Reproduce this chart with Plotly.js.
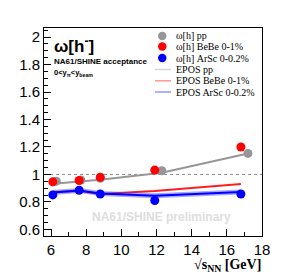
<!DOCTYPE html>
<html><head><meta charset="utf-8">
<script src="https://cdn.plot.ly/plotly-3.0.1.min.js"></script>
<style>html,body{margin:0;padding:0;background:#fff;}#chart{width:291px;height:278px;}</style>
</head><body><div id="chart"></div>
<script>
// Data
const ppX = [6.3, 7.7, 8.8, 12.3, 17.2];
const ppY = [0.951, 0.960, 0.972, 1.027, 1.153];
const beX = [6.1, 7.6, 8.8, 11.9, 16.8];
const beY = [0.946, 0.956, 0.980, 1.032, 1.200];
const arX = [6.1, 7.6, 8.8, 11.9, 16.8];
const arY = [0.851, 0.885, 0.858, 0.810, 0.858];
const eposPPX = [6.3, 7.7, 8.8, 12.3, 17.2];
const eposPPY = [0.935, 0.948, 0.962, 1.012, 1.153];
const eposBeX = [6.1, 7.6, 8.8, 11.9, 16.8];
const eposBeY = [0.873, 0.880, 0.858, 0.880, 0.930];
const eposArX = [6.1, 7.6, 8.8, 11.9, 16.8];
const eposArY = [0.868, 0.884, 0.862, 0.845, 0.872];
const legendLabels = ["ω[h] pp", "ω[h] BeBe 0-1%", "ω[h] ArSc 0-0.2%", "EPOS pp", "EPOS BeBe 0-1%", "EPOS ArSc 0-0.2%"];

const W = 291, H = 278, L = 44, R = 29, T = 28, B = 42;
const pw = W - L - R, ph = H - T - B;
const px = x => (x - L) / pw;
const py = y => (H - B - y) / ph;

const gray = 'rgb(150,150,150)';
const traces = [
  {x: eposPPX, y: eposPPY, mode: 'lines', line: {color: gray, width: 2}, showlegend: false},
  {x: eposBeX, y: eposBeY, mode: 'lines', line: {color: 'rgb(255,30,30)', width: 2}, showlegend: false},
  {x: eposArX, y: eposArY, mode: 'lines', line: {color: 'rgba(60,60,255,0.45)', width: 5}, showlegend: false},
  {x: eposArX, y: eposArY, mode: 'lines', line: {color: 'rgb(0,0,255)', width: 2}, showlegend: false},
  {x: ppX, y: ppY, mode: 'markers', marker: {color: gray, size: 9}, showlegend: false},
  {x: beX, y: beY, mode: 'markers', marker: {color: 'rgb(255,0,0)', size: 9}, showlegend: false},
  {x: arX, y: arY, mode: 'markers', marker: {color: 'rgb(0,0,255)', size: 9}, showlegend: false}
];

const shapes = [
  {type: 'line', xref: 'paper', yref: 'y', x0: 0, x1: 1, y0: 1, y1: 1,
   line: {color: 'rgb(140,140,140)', width: 1, dash: 'dot'}, layer: 'below'}
];
const annotations = [];
const rowY = [36, 46.5, 58, 69.5, 80.8, 92];
const symCols = [gray, 'rgb(255,0,0)', 'rgb(0,0,255)', 'rgb(215,215,215)', 'rgb(255,150,150)', 'rgb(150,150,255)'];
for (let i = 0; i < 6; i++) {
  if (i < 3) {
    shapes.push({type: 'circle', xref: 'paper', yref: 'paper',
      x0: px(158), x1: px(166.5), y0: py(rowY[i] + 4.2), y1: py(rowY[i] - 4.2),
      fillcolor: symCols[i], line: {width: 0}});
  } else {
    shapes.push({type: 'line', xref: 'paper', yref: 'paper',
      x0: px(155), x1: px(171), y0: py(rowY[i]), y1: py(rowY[i]),
      line: {color: symCols[i], width: 1.5}});
  }
  annotations.push({xref: 'paper', yref: 'paper', x: px(174), y: py(rowY[i]),
    xanchor: 'left', yanchor: 'middle', showarrow: false, text: legendLabels[i],
    font: {family: 'Liberation Serif, Times New Roman, serif', size: 10, color: '#000'}});
}
annotations.push(
  {xref: 'paper', yref: 'paper', x: px(52), y: py(45), xanchor: 'left', yanchor: 'middle', showarrow: false,
   text: '<b>ω[h<sup>-</sup>]</b>', font: {family: 'Liberation Sans, Arial, sans-serif', size: 17, color: '#000'}},
  {xref: 'paper', yref: 'paper', x: px(52), y: py(62), xanchor: 'left', yanchor: 'middle', showarrow: false,
   text: '<b>NA61/SHINE acceptance</b>', font: {family: 'Liberation Sans, Arial, sans-serif', size: 8, color: '#000'}},
  {xref: 'paper', yref: 'paper', x: px(52), y: py(73), xanchor: 'left', yanchor: 'middle', showarrow: false,
   text: '<b>0<y<sub>π</sub><y<sub>beam</sub></b>', font: {family: 'Liberation Sans, Arial, sans-serif', size: 7.5, color: '#000'}},
  {xref: 'paper', yref: 'paper', x: px(161), y: py(217), xanchor: 'center', yanchor: 'middle', showarrow: false,
   text: '<b>NA61/SHINE preliminary</b>', font: {family: 'Liberation Sans, Arial, sans-serif', size: 12, color: 'rgb(222,222,222)'}},
  {xref: 'paper', yref: 'paper', x: px(263), y: py(265), xanchor: 'right', yanchor: 'middle', showarrow: false,
   text: '<b>√s<sub>NN</sub> [GeV]</b>', font: {family: 'Liberation Serif, Times New Roman, serif', size: 14, color: '#000'}}
);

const axisCommon = {
  showgrid: false, zeroline: false, showline: true, linecolor: '#000', linewidth: 1, mirror: true,
  ticks: 'inside', tickcolor: '#000', ticklen: 7, tickwidth: 1,
  tickfont: {family: 'Liberation Sans, Arial, sans-serif', size: 15, color: '#000'}
};
const layout = {
  width: W, height: H, margin: {l: L, r: R, t: T, b: B},
  paper_bgcolor: '#fff', plot_bgcolor: '#fff', showlegend: false,
  xaxis: Object.assign({}, axisCommon, {range: [5.6, 18], dtick: 2, tick0: 0, ticklabelstandoff: 0,
    minor: {dtick: 1, ticks: 'inside', ticklen: 4, tickcolor: '#000'}}),
  yaxis: Object.assign({}, axisCommon, {range: [0.552, 2.066], dtick: 0.2, tick0: 0,
    minor: {dtick: 0.05, ticks: 'inside', ticklen: 4, tickcolor: '#000'}}),
  shapes: shapes, annotations: annotations
};
Plotly.newPlot('chart', traces, layout, {displayModeBar: false, staticPlot: true});
</script></body></html>
